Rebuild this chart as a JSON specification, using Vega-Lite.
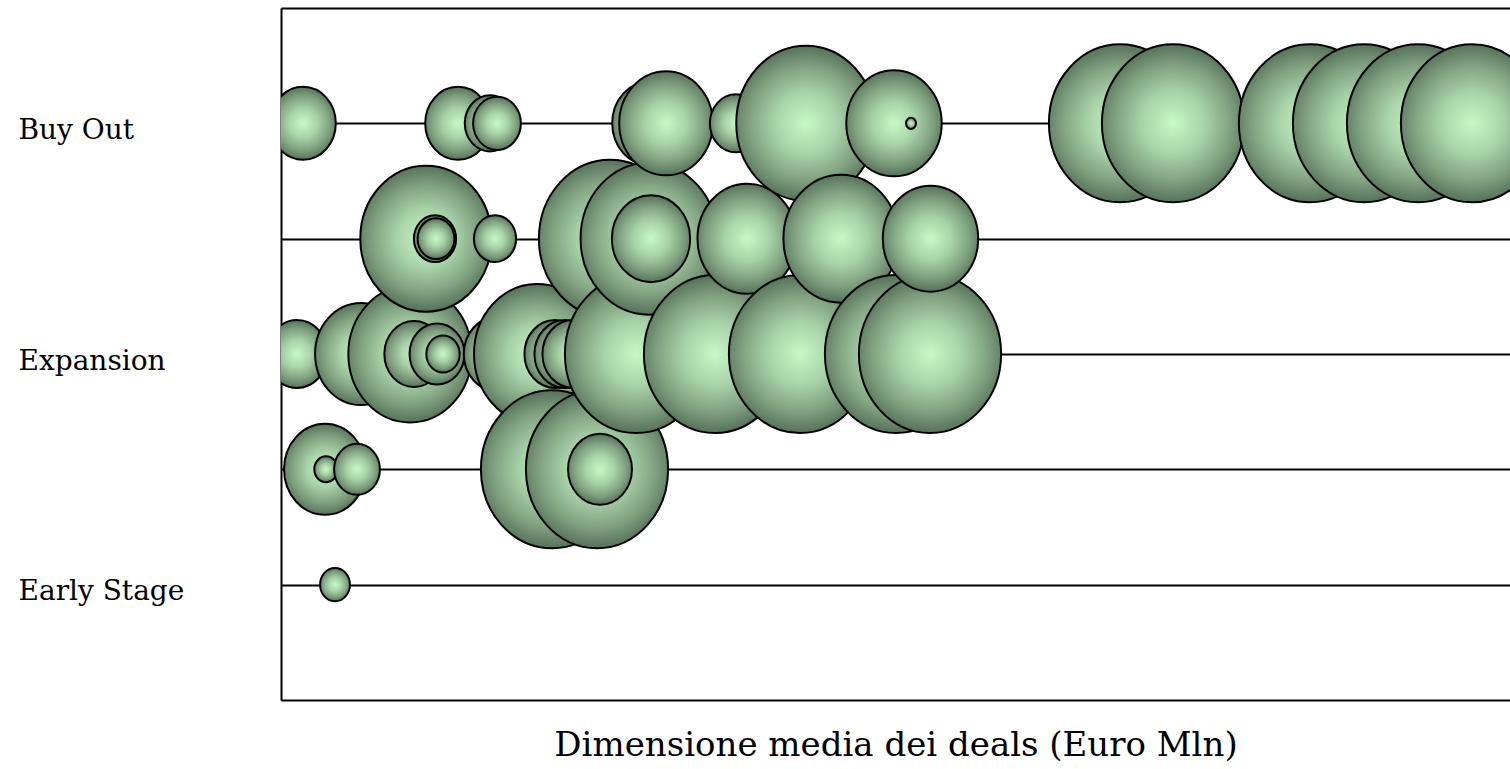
{
  "$schema": "https://vega.github.io/schema/vega-lite/v6.json",
  "width": 1229,
  "height": 692,
  "autosize": {"type": "none"},
  "padding": {"left": 281, "top": 8, "right": 0, "bottom": 69},
  "background": "white",
  "view": {"stroke": null},
  "data": {
    "values": [
      {"stage": "Expansion", "row": 3, "x": 1.6, "v": 18.5},
      {"stage": "Buy Out", "row": 5, "x": 2.2, "v": 21.3},
      {"stage": "Row 2", "row": 2, "x": 4.4, "v": 33.2},
      {"stage": "Row 2", "row": 2, "x": 4.5, "v": 2.7},
      {"stage": "Early Stage", "row": 1, "x": 5.4, "v": 4.4},
      {"stage": "Row 2", "row": 2, "x": 7.6, "v": 10.4},
      {"stage": "Expansion", "row": 3, "x": 8.0, "v": 41.7},
      {"stage": "Expansion", "row": 3, "x": 12.9, "v": 75.2},
      {"stage": "Expansion", "row": 3, "x": 13.3, "v": 17.4},
      {"stage": "Row 4", "row": 4, "x": 14.5, "v": 85.4},
      {"stage": "Row 4", "row": 4, "x": 15.4, "v": 8.8},
      {"stage": "Row 4", "row": 4, "x": 15.5, "v": 6.7},
      {"stage": "Expansion", "row": 3, "x": 15.6, "v": 14.9},
      {"stage": "Expansion", "row": 3, "x": 16.2, "v": 5.5},
      {"stage": "Buy Out", "row": 5, "x": 17.7, "v": 21.3},
      {"stage": "Buy Out", "row": 5, "x": 20.9, "v": 12.6},
      {"stage": "Row 4", "row": 4, "x": 21.4, "v": 8.8},
      {"stage": "Buy Out", "row": 5, "x": 21.6, "v": 11.3},
      {"stage": "Expansion", "row": 3, "x": 21.65, "v": 22.5},
      {"stage": "Expansion", "row": 3, "x": 25.6, "v": 78.5},
      {"stage": "Row 2", "row": 2, "x": 27.1, "v": 100},
      {"stage": "Expansion", "row": 3, "x": 27.4, "v": 18.5},
      {"stage": "Expansion", "row": 3, "x": 28.4, "v": 18.5},
      {"stage": "Expansion", "row": 3, "x": 29.2, "v": 18.5},
      {"stage": "Row 2", "row": 2, "x": 31.6, "v": 100},
      {"stage": "Row 2", "row": 2, "x": 31.9, "v": 20.2},
      {"stage": "Row 4", "row": 4, "x": 32.9, "v": 100},
      {"stage": "Expansion", "row": 3, "x": 35.5, "v": 100},
      {"stage": "Row 4", "row": 4, "x": 36.8, "v": 92.6},
      {"stage": "Buy Out", "row": 5, "x": 36.9, "v": 28.3},
      {"stage": "Row 4", "row": 4, "x": 37.0, "v": 30.3},
      {"stage": "Buy Out", "row": 5, "x": 38.5, "v": 43.3},
      {"stage": "Expansion", "row": 3, "x": 43.4, "v": 100},
      {"stage": "Buy Out", "row": 5, "x": 45.5, "v": 13.5},
      {"stage": "Row 4", "row": 4, "x": 46.6, "v": 48.5},
      {"stage": "Expansion", "row": 3, "x": 51.9, "v": 100},
      {"stage": "Buy Out", "row": 5, "x": 52.5, "v": 96.2},
      {"stage": "Row 4", "row": 4, "x": 56.0, "v": 65.6},
      {"stage": "Buy Out", "row": 5, "x": 61.3, "v": 45.0},
      {"stage": "Expansion", "row": 3, "x": 61.5, "v": 100},
      {"stage": "Buy Out", "row": 5, "x": 63.0, "v": 0.5},
      {"stage": "Expansion", "row": 3, "x": 64.9, "v": 100},
      {"stage": "Row 4", "row": 4, "x": 64.95, "v": 45.0},
      {"stage": "Buy Out", "row": 5, "x": 83.9, "v": 100},
      {"stage": "Buy Out", "row": 5, "x": 89.2, "v": 100},
      {"stage": "Buy Out", "row": 5, "x": 102.9, "v": 100},
      {"stage": "Buy Out", "row": 5, "x": 108.3, "v": 100},
      {"stage": "Buy Out", "row": 5, "x": 113.7, "v": 100},
      {"stage": "Buy Out", "row": 5, "x": 119.1, "v": 100}
    ]
  },
  "mark": {
    "type": "point",
    "filled": true,
    "shape": "M-0.9,0A0.9,1,0,1,1,0.9,0A0.9,1,0,1,1,-0.9,0Z",
    "fill": {
      "gradient": "radial",
      "x1": 0.5, "y1": 0.5, "r1": 0,
      "x2": 0.5, "y2": 0.5, "r2": 0.5,
      "stops": [
        {"offset": 0, "color": "#c8f8c8"},
        {"offset": 0.4, "color": "#a8d3a8"},
        {"offset": 0.75, "color": "#7e9f7e"},
        {"offset": 1, "color": "#56715a"}
      ]
    },
    "stroke": "#000000",
    "strokeWidth": 2,
    "opacity": 1,
    "fillOpacity": 1,
    "clip": true
  },
  "encoding": {
    "x": {
      "field": "x",
      "type": "quantitative",
      "scale": {"domain": [0, 122.9], "nice": false, "zero": false},
      "axis": {
        "title": "Dimensione media dei deals (Euro Mln)",
        "labels": false,
        "ticks": false,
        "domain": false,
        "grid": false,
        "titleFont": "DejaVu Serif",
        "titleFontSize": 34,
        "titleFontWeight": "normal",
        "titleColor": "#000000",
        "titlePadding": 28
      }
    },
    "y": {
      "field": "row",
      "type": "quantitative",
      "scale": {"domain": [0, 6], "nice": false},
      "axis": {
        "title": null,
        "values": [0, 1, 2, 3, 4, 5, 6],
        "grid": true,
        "gridColor": "#000000",
        "gridWidth": 2,
        "gridOpacity": 1,
        "domain": true,
        "domainColor": "#000000",
        "domainWidth": 2,
        "ticks": false,
        "tickSize": 0,
        "labelPadding": 263,
        "labelAlign": "left",
        "labelBaseline": "middle",
        "labelFont": "DejaVu Serif",
        "labelFontSize": 28,
        "labelColor": "#000000",
        "labelOffset": 7,
        "labelBound": false,
        "labelOverlap": false,
        "labelFlush": false,
        "labelExpr": "datum.value == 5 ? 'Buy Out' : datum.value == 3 ? 'Expansion' : datum.value == 1 ? 'Early Stage' : ''"
      }
    },
    "size": {
      "field": "v",
      "type": "quantitative",
      "scale": {"type": "linear", "domain": [0, 100], "range": [0, 24964]},
      "legend": null
    },
    "order": {"field": "x", "type": "quantitative"}
  }
}
